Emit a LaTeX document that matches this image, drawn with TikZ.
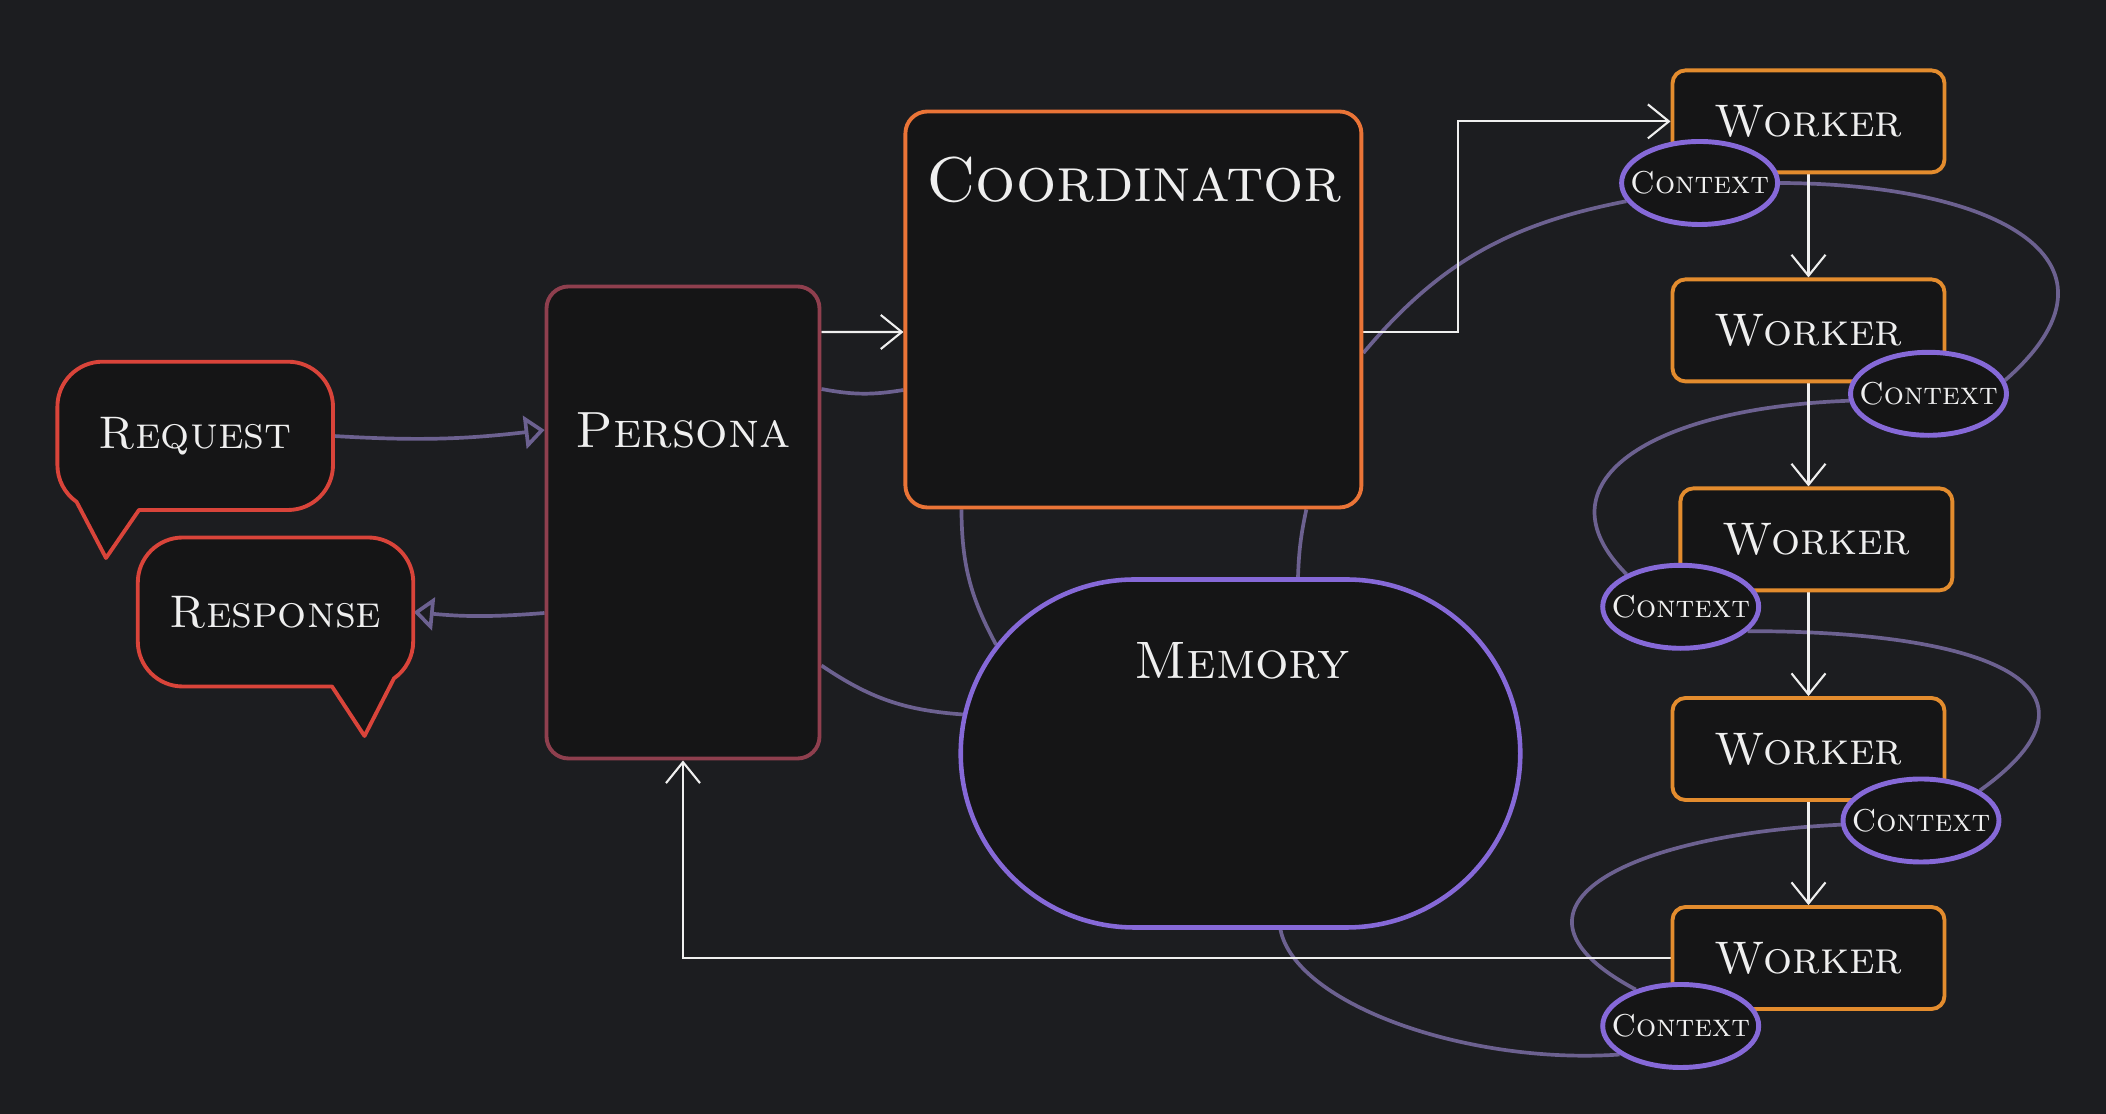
\documentclass[tikz,border=0pt]{standalone}
\usepackage{tikz}
\usetikzlibrary{arrows.meta,shapes.geometric,shapes.misc,backgrounds}

\definecolor{canvasgrey}{HTML}{1C1D20}
\definecolor{boxfill}{HTML}{151516}
\definecolor{bubblered}{HTML}{D9443A}
\definecolor{personared}{HTML}{8F3F4E}
\definecolor{coordorange}{HTML}{EA7437}
\definecolor{workerorange}{HTML}{E38C2E}
\definecolor{memviolet}{HTML}{8669D8}
\definecolor{linkviolet}{HTML}{6C6190}
\definecolor{inkwhite}{HTML}{EFEFEF}

\pgfdeclarelayer{canvas}
\pgfsetlayers{canvas,background,main}

\tikzset{
  box/.style={draw, fill=boxfill, line width=1.1pt, rounded corners=2.2mm},
  bubble/.style={draw=bubblered, fill=boxfill, line width=1.1pt, line join=round},
  bubbletext/.style={minimum width=2.75cm, minimum height=1.49cm, text=inkwhite,
    font=\fontsize{13}{13}\selectfont\scshape},
  title/.style={text=inkwhite, inner sep=0pt, font=\fontsize{#1}{#1}\selectfont\scshape},
  workerbox/.style={box, draw=workerorange, rounded corners=1.3mm, minimum width=2.72cm,
    minimum height=1.02cm, text=inkwhite, font=\fontsize{13}{13}\selectfont\scshape},
  memshape/.style={rounded rectangle, draw=memviolet, fill=boxfill, line width=1.3pt,
    minimum width=5.83cm, minimum height=3.48cm},
  ctx/.style={ellipse, draw=memviolet, fill=boxfill, line width=1.4pt,
    minimum width=1.56cm, minimum height=0.83cm, inner sep=0pt},
  ctxtext/.style={text=inkwhite, inner sep=0pt, font=\fontsize{9}{9}\selectfont\scshape},
  link/.style={draw=linkviolet, line width=1.05pt},
  hollow/.style={-{Triangle[open,length=2mm,width=3.3mm]}},
  flow/.style={draw=inkwhite, line width=0.6pt, -{Straight Barb[length=2.1mm,width=3.4mm]}}
}

\begin{document}
\begin{tikzpicture}
  \begin{pgfonlayer}{canvas}
    \fill[canvasgrey] (0,0) rectangle (21.06,11.14);
  \end{pgfonlayer}
  \useasboundingbox (0,0) rectangle (21.06,11.14);

  % speech bubbles
  \filldraw[bubble] (1.39,6.04) -- (2.88,6.04) arc(-90:0:0.45) -- (3.33,7.073) arc(0:90:0.45)
    -- (1.024,7.523) arc(90:180:0.45) -- (0.574,6.49) arc(180:235:0.45) -- (1.06,5.56) -- cycle;
  \node[bubbletext] (req) at (1.952,6.78) {Request};
  \filldraw[bubble] (3.32,4.275) -- (3.645,3.78) -- (3.94,4.356) arc(-55:0:0.45) -- (4.133,5.315)
    arc(0:90:0.45) -- (1.828,5.765) arc(90:180:0.45) -- (1.378,4.725) arc(180:270:0.45) -- cycle;
  \node[bubbletext] (resp) at (2.755,5.02) {Response};

  % persona, coordinator, memory
  \node[box, draw=personared, minimum width=2.73cm, minimum height=4.72cm] (persona) at (6.83,5.915) {};
  \node[title=14.5] (persona-name) at (6.83,6.84) {Persona};
  \node[box, draw=coordorange, minimum width=4.56cm, minimum height=3.96cm] (coord) at (11.334,8.045) {};
  \node[title=18] (coord-name) at (11.34,9.34) {Coordinator};
  \node[memshape] (memory) at (12.405,3.605) {};
  \node[title=15] (memory-name) at (12.42,4.535) {Memory};

  % workers
  \node[workerbox] (w1) at (18.085,9.926) {Worker};
  \node[workerbox] (w2) at (18.085,7.836) {Worker};
  \node[workerbox] (w3) at (18.164,5.746) {Worker};
  \node[workerbox] (w4) at (18.085,3.65) {Worker};
  \node[workerbox] (w5) at (18.085,1.56) {Worker};

  % contexts
  \node[ctx] (c1) at (16.996,9.31) {};
  \node[ctxtext] (c1-text) at (c1) {Context};
  \node[ctx] (c2) at (19.285,7.202) {};
  \node[ctxtext] (c2-text) at (c2) {Context};
  \node[ctx] (c3) at (16.807,5.072) {};
  \node[ctxtext] (c3-text) at (c3) {Context};
  \node[ctx] (c4) at (19.21,2.935) {};
  \node[ctxtext] (c4-text) at (c4) {Context};
  \node[ctx] (c5) at (16.807,0.88) {};
  \node[ctxtext] (c5-text) at (c5) {Context};

  \begin{pgfonlayer}{background}
    % shared state links
    \draw[link, hollow] (req.east) to[bend right=5] ([yshift=9.25mm]persona.west);
    \draw[link, hollow] ([yshift=-9.05mm]persona.west) to[bend left=5] (resp.east);
    \draw[link] ([yshift=13.35mm]persona.east) to[bend right=10] ([yshift=-8.05mm]coord.west);
    \draw[link] ([yshift=-14.3mm]persona.east) to[bend right=15] (memory.172);
    \draw[link] ([xshift=5.8mm]coord.south west) to[bend right=14] (memory.156);
    \draw[link] ([xshift=-5.7mm]coord.south east) to[bend right=5] ([xshift=5.75mm]memory.north);
    \draw[link] ([yshift=-4.35mm]coord.east) to[out=50,in=191] (c1.194);
    \draw[link] (c1.east) .. controls (20.0,9.3) and (21.4,8.52) .. (c2.10);
    \draw[link] (c2.185) .. controls (16.49,7.06) and (15.35,6.31) .. (c3.149);
    \draw[link] (c3.-20) .. controls (19.98,4.83) and (21.2,4.24) .. (c4.27);
    \draw[link] (c4.183) .. controls (16.22,2.79) and (14.845,2.05) .. (c5.141);
    \draw[link] (c5.205) .. controls (14.67,0.49) and (12.955,1.10) .. ([xshift=4mm]memory.south);

    % control flow
    \draw[flow] ([yshift=19.05mm]persona.east) -- ([yshift=-2.25mm]coord.west);
    \draw[flow] ([yshift=-2.25mm]coord.east) -- ++(0.95,0) |- (w1.west);
    \draw[flow] (w1.south) -- (w2.north);
    \draw[flow] (w2.south) -- (w2.south |- w3.north);
    \draw[flow] (w4.north |- w3.south) -- (w4.north);
    \draw[flow] (w4.south) -- (w5.north);
    \draw[flow] (w5.west) -| (persona.south);
  \end{pgfonlayer}
\end{tikzpicture}
\end{document}
